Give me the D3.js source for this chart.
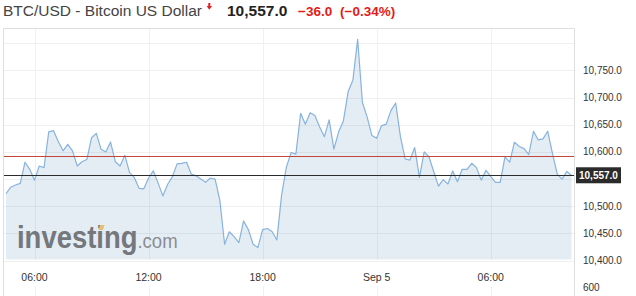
<!DOCTYPE html>
<html>
<head>
<meta charset="utf-8">
<script src="https://cdn.jsdelivr.net/npm/d3@7"></script>
<style>
  html, body { margin: 0; padding: 0; background: #fff; }
  svg { display: block; font-family: "Liberation Sans", Arial, sans-serif; }
</style>
</head>
<body>
<svg id="chart" width="636" height="296"></svg>
<script>
// ---- data (15-minute closes, Sep 4 04:30 UTC -> Sep 5 10:15 UTC) ----
const startTime = "2019-09-04T04:30:00Z";
const stepMinutes = 15;
const prices = [
  10523, 10535, 10539, 10542, 10581, 10568, 10548, 10574, 10571, 10637,
  10639, 10619, 10602, 10614, 10602, 10574, 10582, 10586, 10626, 10634,
  10605, 10600, 10618, 10582, 10574, 10594, 10562, 10553, 10533, 10532,
  10552, 10565, 10543, 10519, 10540, 10554, 10578, 10579, 10581, 10559,
  10556, 10550, 10544, 10552, 10550, 10511, 10430, 10453, 10444, 10433,
  10473, 10457, 10430, 10424, 10457, 10459, 10453, 10438, 10521, 10572,
  10599, 10596, 10671, 10651, 10672, 10667, 10646, 10628, 10659, 10605,
  10637, 10657, 10711, 10732, 10807, 10691, 10664, 10630, 10625, 10648,
  10651, 10676, 10690, 10628, 10587, 10585, 10608, 10553, 10600, 10591,
  10564, 10537, 10549, 10541, 10565, 10545, 10568, 10568, 10579, 10571,
  10548, 10566, 10555, 10544, 10544, 10591, 10581, 10618, 10610, 10606,
  10595, 10638, 10622, 10624, 10638, 10597, 10559, 10550, 10564, 10557
];
const lastPrice = 10557.0;
const prevClose = 10593.0;
const change = -36.0;
const changePct = -0.34;
const yTickValues = [10400, 10450, 10500, 10600, 10650, 10700, 10750];
const yGridValues = [10400, 10450, 10500, 10550, 10600, 10650, 10700, 10750, 10800];
const volumeTickLabels = ["600"];
const titleText = "BTC/USD - Bitcoin US Dollar";

(function () {
const t0 = new Date(startTime);
const data = prices.map((p, i) => ({ t: new Date(t0.getTime() + i * stepMinutes * 60000), v: p }));

const svg = d3.select("#chart");
const pL = 3.5, pR = 574.5, pT = 28.5, pB = 259.5;

const x = d3.scaleUtc()
  .domain(d3.extent(data, d => d.t))
  .range([6, 571.5]);
const y = d3.scaleLinear()
  .domain([10402, 10828])
  .range([pB, 28]);

const xTicks = d3.utcHour.every(6).range(d3.utcHour.ceil(x.domain()[0]), x.domain()[1]);
const fmtTick = d => (d.getUTCHours() === 0 ? d3.utcFormat("%b %-d")(d) : d3.utcFormat("%H:%M")(d));

// horizontal gridlines
svg.append("g").selectAll("line").data(yGridValues).join("line")
  .attr("x1", pL).attr("x2", pR)
  .attr("y1", d => Math.round(y(d)) + 0.5).attr("y2", d => Math.round(y(d)) + 0.5)
  .attr("stroke", "#f0f0f0").attr("stroke-width", 1);

// vertical gridlines (price pane and volume pane)
svg.append("g").selectAll("line").data(xTicks).join("line")
  .attr("x1", d => Math.round(x(d)) + 0.5).attr("x2", d => Math.round(x(d)) + 0.5)
  .attr("y1", pT).attr("y2", pB)
  .attr("stroke", "#f0f0f0");
svg.append("g").selectAll("line").data(xTicks).join("line")
  .attr("x1", d => Math.round(x(d)) + 0.5).attr("x2", d => Math.round(x(d)) + 0.5)
  .attr("y1", 286).attr("y2", 296)
  .attr("stroke", "#f0f0f0");

// area
const area = d3.area().x(d => x(d.t)).y0(pB).y1(d => y(d.v));
svg.append("path").datum(data).attr("d", area)
  .attr("fill", "rgba(70,130,180,0.14)");

// watermark logo (single text, two styled parts)
const logo = svg.append("g");
const logoText = logo.append("text")
  .attr("transform", "translate(17,247.5) scale(0.885,1)");
logoText.append("tspan").attr("font-size", 31).attr("font-weight", "bold")
  .attr("fill", "#74777c").text("investing");
logoText.append("tspan").attr("font-size", 21)
  .attr("fill", "#8a8d92").text(".com");
logo.append("path").attr("d", "M98.5,230 L100,225 L104.5,225 L103,230 Z").attr("fill", "#e2c070");

// line
svg.append("path").datum(data)
  .attr("d", d3.line().x(d => x(d.t)).y(d => y(d.v)))
  .attr("fill", "none").attr("stroke", "#86b3df").attr("stroke-width", 1.2)
  .attr("stroke-linejoin", "round");

// previous close & last price lines
svg.append("line").attr("x1", pL).attr("x2", pR)
  .attr("y1", Math.round(y(prevClose)) + 0.5).attr("y2", Math.round(y(prevClose)) + 0.5)
  .attr("stroke", "#c0453b").attr("stroke-width", 1);
svg.append("line").attr("x1", pL).attr("x2", pR)
  .attr("y1", Math.round(y(lastPrice)) + 0.5).attr("y2", Math.round(y(lastPrice)) + 0.5)
  .attr("stroke", "#2b2b2b").attr("stroke-width", 1);

// borders
svg.append("path")
  .attr("d", `M${pL},296 V${pT} H${pR} V296`)
  .attr("fill", "none").attr("stroke", "#dedede").attr("stroke-width", 1);

// right axis labels
const fmtY = d3.format(",.1f");
svg.append("g").selectAll("text").data(yTickValues).join("text")
  .attr("x", 583).attr("y", d => y(d)).attr("dy", "0.35em")
  .attr("font-size", 10).attr("fill", "#333").text(d => fmtY(d));
svg.append("g").selectAll("text").data(volumeTickLabels).join("text")
  .attr("x", 583).attr("y", 291).attr("font-size", 10).attr("fill", "#333").text(d => d);

// last price tag
const ly = y(lastPrice);
svg.append("rect").attr("x", 576).attr("y", ly - 8).attr("width", 45).attr("height", 16)
  .attr("fill", "#2b2b2b");
svg.append("text").attr("x", 579).attr("y", ly).attr("dy", "0.35em")
  .attr("font-size", 10).attr("font-weight", "bold").attr("fill", "#fff").text(fmtY(lastPrice));

// x axis labels
svg.append("g").selectAll("text").data(xTicks).join("text")
  .attr("x", d => x(d)).attr("y", 281).attr("text-anchor", "middle")
  .attr("font-size", 10.5).attr("fill", "#333").text(fmtTick);

// title
svg.append("text").attr("x", 3).attr("y", 16)
  .attr("font-size", 15.5).attr("fill", "#444").text(titleText);
svg.append("path").attr("d", "M208.3,3 H210.3 V6 H212 L209.3,9.8 L206.6,6 H208.3 Z").attr("fill", "#e02020");
svg.append("text").attr("x", 227).attr("y", 16)
  .attr("font-size", 15.5).attr("font-weight", "bold").attr("fill", "#222").text(fmtY(lastPrice));
svg.append("text").attr("x", 298).attr("y", 16)
  .attr("font-size", 13.5).attr("font-weight", "bold").attr("fill", "#e41b17").text(d3.format(".1f")(change));
svg.append("text").attr("x", 340).attr("y", 16)
  .attr("font-size", 13.5).attr("font-weight", "bold").attr("fill", "#e41b17").text("(" + d3.format(".2f")(changePct) + "%)");
})();
</script>
</body>
</html>
